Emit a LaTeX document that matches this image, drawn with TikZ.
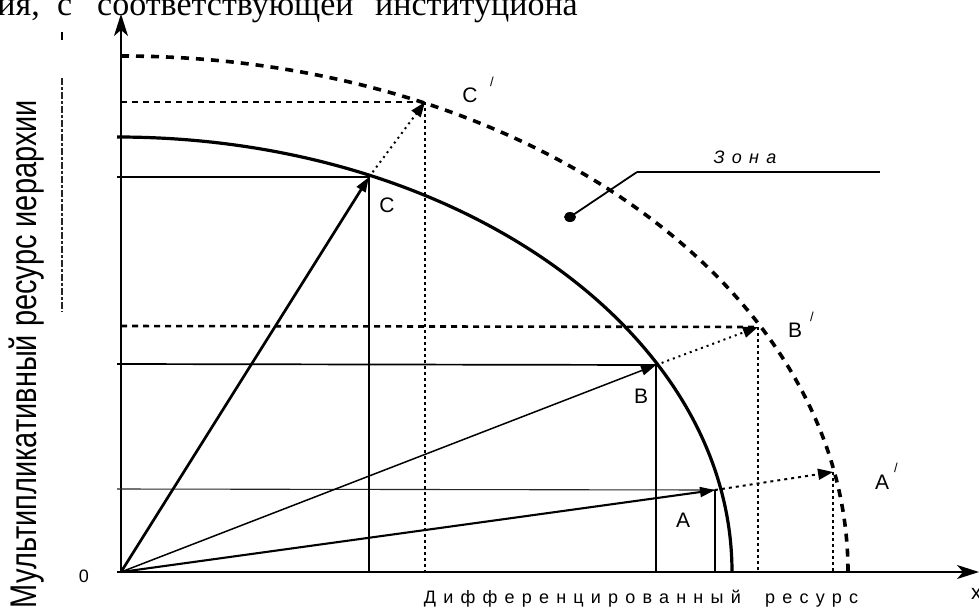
\documentclass[tikz,border=0pt]{standalone}
\usepackage{fontspec}
\setmainfont{Liberation Serif}
\newfontfamily\arialf{Liberation Sans}
\newfontfamily\arialsp[LetterSpace=40]{Liberation Sans}
\usetikzlibrary{arrows.meta}
\begin{document}
\begin{tikzpicture}[x=1pt,y=-1pt,
  lbl/.style={font=\arialf\fontsize{21}{21}\selectfont, inner sep=0pt},
  prm/.style={font=\arialf\fontsize{13}{13}\selectfont, inner sep=0pt},
  toptext/.style={anchor=base west, inner sep=0pt, font=\fontsize{34}{34}\selectfont},
  curvesolid/.style={line width=3.2pt},
  curvedash/.style={line width=3.6pt, dash pattern=on 8pt off 7pt},
  vsolid/.style={line width=2.5pt},
  hdash/.style={line width=2.6pt, dash pattern=on 6pt off 5pt},
  vdot/.style={line width=2.8pt, dash pattern=on 3pt off 3pt},
  vec/.style={-{Triangle[length=15pt,width=10pt]}},
  move/.style={line width=2pt, dash pattern=on 2pt off 4pt, -{Triangle[length=15pt,width=11pt]}},
  axis/.style={line width=1.8pt, -{Stealth[length=22pt,width=14pt,inset=6pt]}}
]
\useasboundingbox (0,0) rectangle (979,611);
% coordinates
\coordinate (O) at (121,572);
\coordinate (O0) at (117,572);
\coordinate (YT) at (121,14);
\coordinate (XT) at (979,572);
\coordinate (C) at (369,177);
\coordinate (B) at (656,365);
\coordinate (A) at (715,490);
\coordinate (Cp) at (425,102);
\coordinate (Bp) at (758,327);
\coordinate (Ap) at (833,472);
\coordinate (Cy) at (117,177);
\coordinate (By) at (117,364);
\coordinate (Ay) at (117,489);
\coordinate (Cpy) at (121,102);
\coordinate (Bpy) at (121,326);
\coordinate (Cx) at (369,572);
\coordinate (Bx) at (656,572);
\coordinate (Ax) at (715,572);
\coordinate (Cpx) at (425,572);
\coordinate (Bpx) at (758,572);
\coordinate (Apx) at (833,572);
\coordinate (S1) at (117,137);
\coordinate (S2) at (121,56);

% top clipped text line
\node[toptext, anchor=base east] (t1) at (40,15) {ния,};
\node[toptext] (t2) at (57,15) {с};
\node[toptext] (t3) at (97,15) {соответствующей};
\node[toptext] (t4) at (375,15) {институциона};

% scan artefact at left
\coordinate (art1) at (62,32);
\coordinate (art2) at (62,40);
\coordinate (art3) at (62,78);
\coordinate (art4) at (62,312);
\draw[line width=1.2pt] (art1) -- (art2);
\draw[line width=1.8pt, black!85, dash pattern=on 7pt off 2pt on 3pt off 2pt] (art3) -- (art4);

% curves
\draw[curvesolid] (S1) arc[start angle=-90, end angle=0, x radius=615, y radius=435];
\draw[curvedash] (S2) arc[start angle=-90, end angle=0, x radius=727, y radius=516];

% axes
\draw[axis] (O) -- (YT);
\draw[axis] (O0) -- (XT);

% projections
\draw[line width=1.5pt] (Cy) -- (C);
\draw[line width=1.7pt] (By) -- (B);
\draw[line width=1.1pt, black!85] (Ay) -- (A);
\draw[vsolid] (C) -- (Cx);
\draw[vsolid] (B) -- (Bx);
\draw[line width=2pt] (A) -- (Ax);
\draw[hdash] (Cpy) -- (Cp);
\draw[hdash] (Bpy) -- (Bp);
\draw[vdot] (Cp) -- (Cpx);
\draw[vdot] (Bp) -- (Bpx);
\draw[vdot] (Ap) -- (Apx);

% vectors
\draw[vec, line width=2.7pt] (O) -- (C);
\draw[vec, line width=1.5pt] (O) -- (B);
\draw[vec, line width=2.1pt] (O) -- (A);

% moves
\draw[move] (C) -- (Cp);
\draw[move] (B) -- (Bp);
\draw[move, dash pattern=on 3pt off 4pt] (A) -- (Ap);

% labels
\node[lbl] (lC) at (387,205) {C};
\node[lbl] (lCp) at (470,95) {C};
\node[prm] (sC) at (492,82) {/};
\node[lbl] (lB) at (641,396) {B};
\node[lbl] (lBp) at (795,330) {B};
\node[prm] (sB) at (812,317) {/};
\node[lbl] (lA) at (683,520) {A};
\node[lbl] (lAp) at (882,482) {A};
\node[prm] (sA) at (896,468) {/};

% zone
\fill (570,217) ellipse[x radius=6, y radius=5];
\coordinate (Zd) at (570,217);
\coordinate (Zk) at (637,172);
\coordinate (Ze) at (880,172);
\draw[line width=1.8pt] (Zd) -- (Zk);
\draw[line width=1.2pt] (Zk) -- (Ze);
\node[inner sep=0pt, font=\arialsp\itshape\fontsize{18}{18}\selectfont] (zona) at (745,157) {Зона};

% axis labels
\node[inner sep=0pt, font=\arialf\fontsize{18}{18}\selectfont] (zero) at (84,576) {0};
\node[anchor=base west, inner sep=0pt, font=\arialf\fontsize{21}{21}\selectfont] (xl) at (971,599) {x};
\node[anchor=base, inner sep=0pt, font=\arialsp\fontsize{18}{18}\selectfont] (xlab) at (641,603) {Дифференцированный\ \ ресурс};
\node[anchor=base, rotate=90, inner sep=0pt, font=\arialf\fontsize{29}{29}\selectfont] (ylab) at (36,354) {\scalebox{1}[1.28]{Мультипликативный ресурс иерархии}};
\end{tikzpicture}
\end{document}
